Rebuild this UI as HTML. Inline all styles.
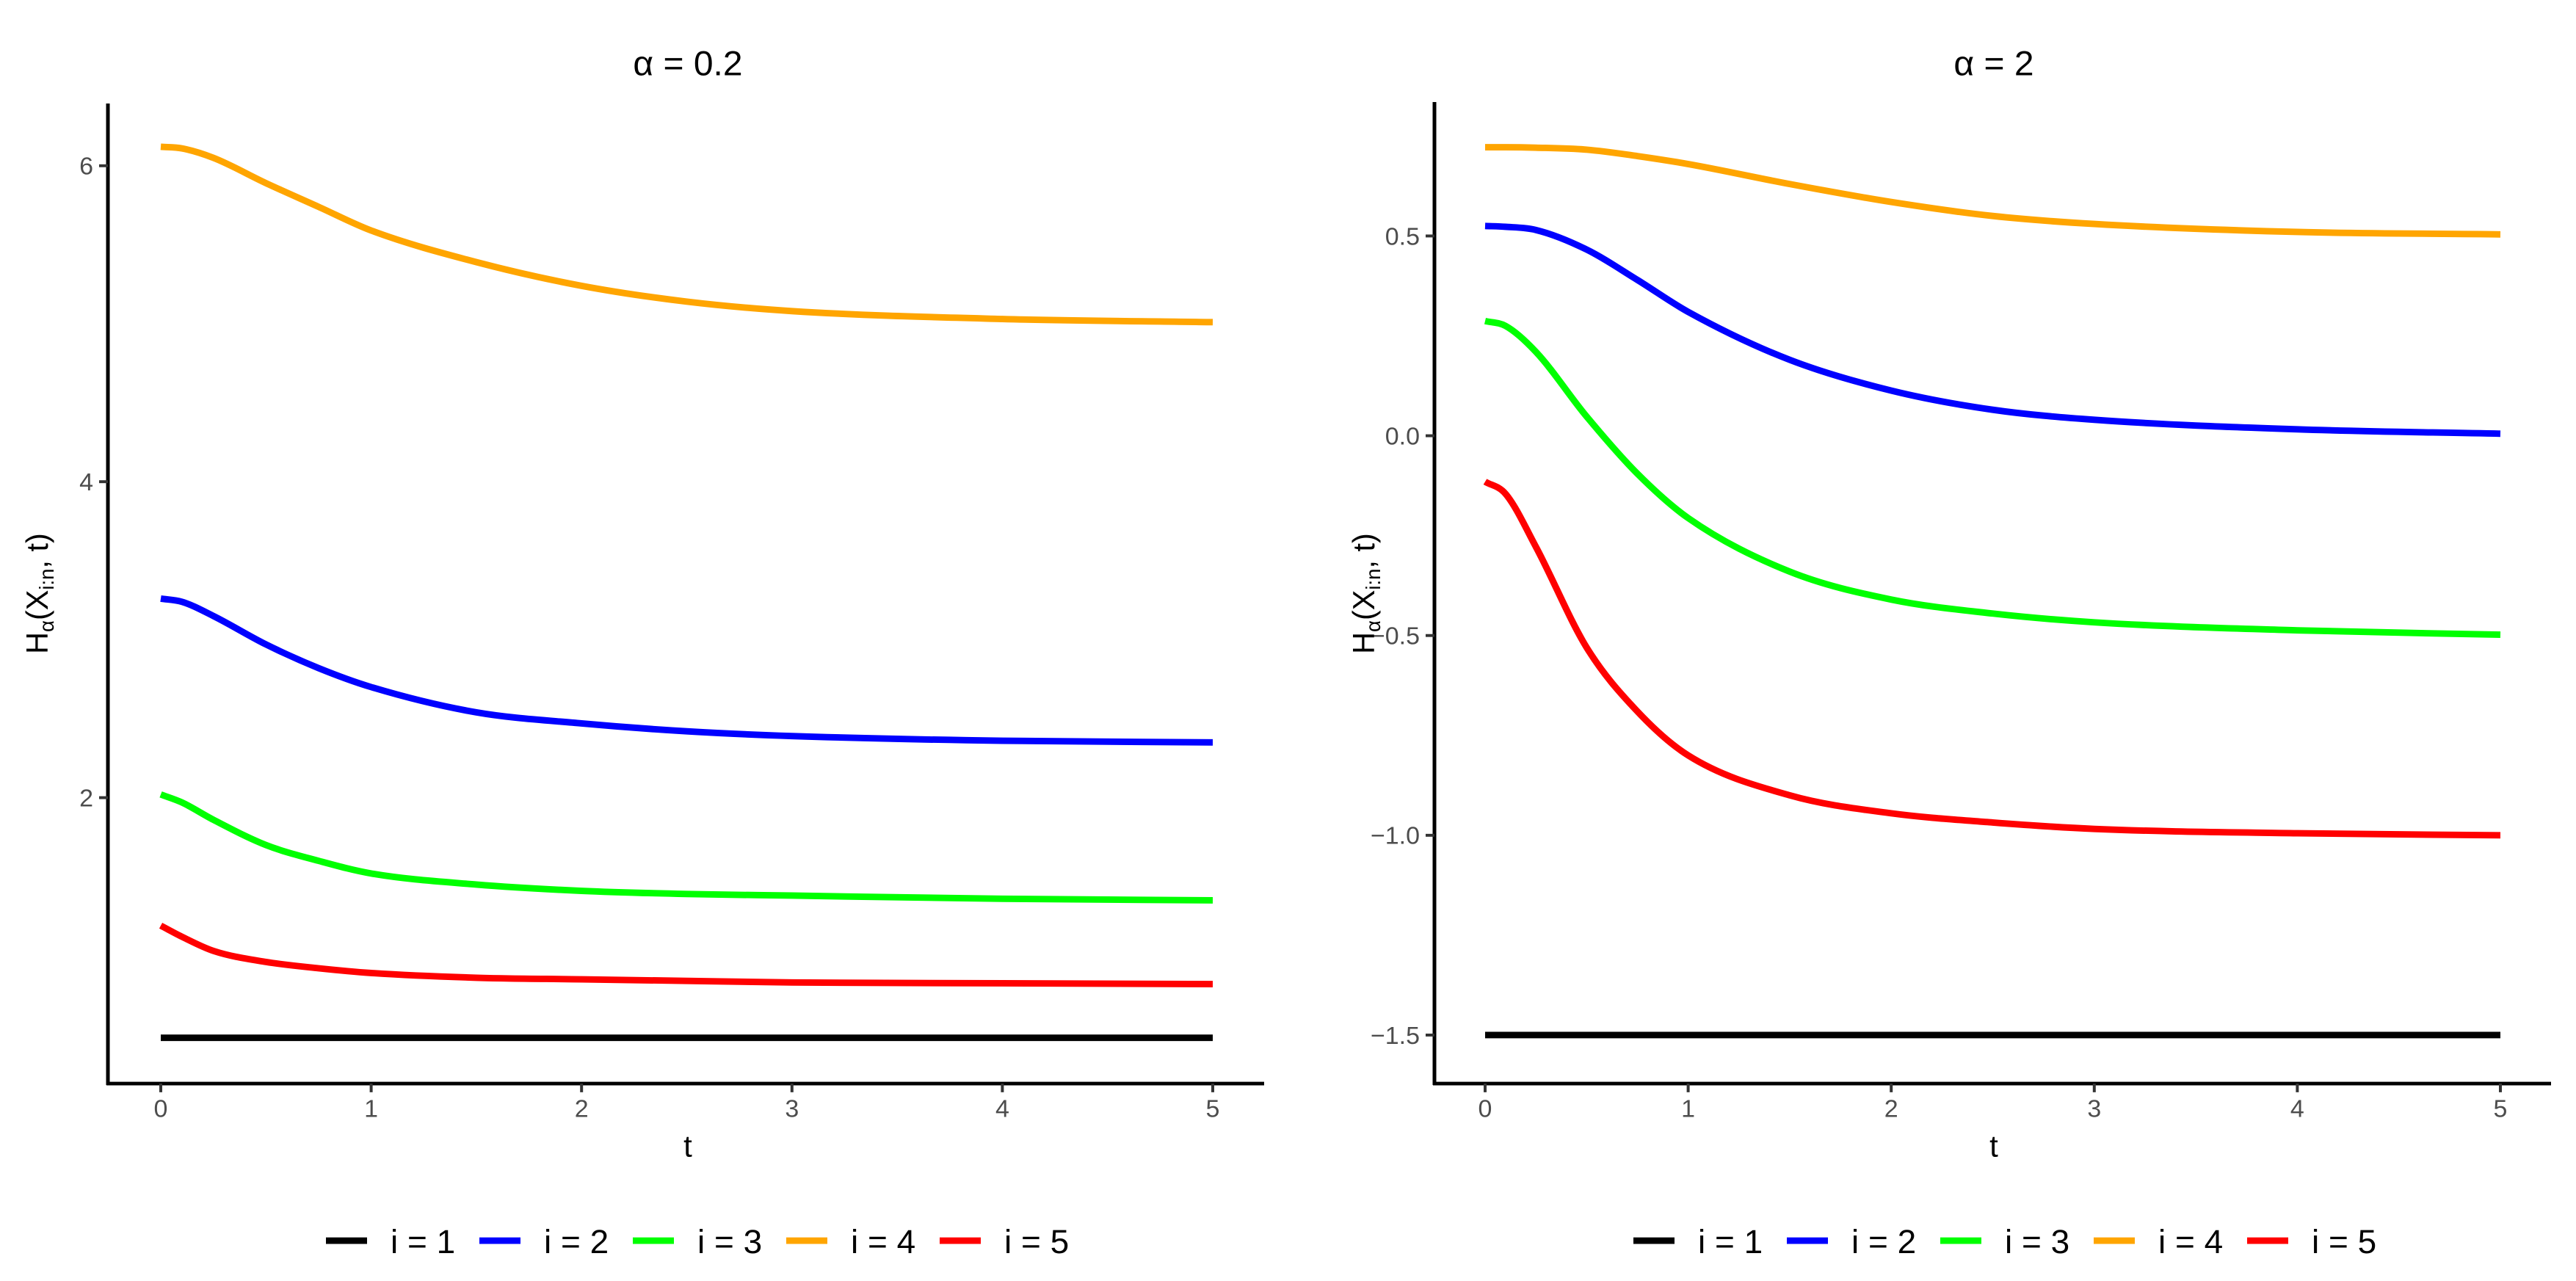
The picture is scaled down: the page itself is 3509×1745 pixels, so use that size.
<!DOCTYPE html>
<html><head><meta charset="utf-8"><style>
html,body{margin:0;padding:0;background:#fff;}
svg{display:block;font-family:"Liberation Sans","DejaVu Sans",sans-serif;}
</style></head><body>
<svg id="chart" width="3509" height="1745" viewBox="0 0 3509 1745" xmlns="http://www.w3.org/2000/svg"><g id="root" transform="scale(1,0.986)"></g></svg>
<script>
const tVals = [0,0.1,0.25,0.5,0.75,1,1.5,2,2.5,3,4,5];
const seriesNames = ["i = 1","i = 2","i = 3","i = 4","i = 5"];
const seriesColors = ["#000000","#0000ff","#00ff00","#ffa500","#ff0000"];
// panel 1 (alpha = 0.2)
const p1_s1 = [0.48,0.48,0.48,0.48,0.48,0.48,0.48,0.48,0.48,0.48,0.48,0.48];
const p1_s2 = [3.26,3.24,3.15,2.97,2.82,2.70,2.54,2.47,2.42,2.39,2.36,2.35];
const p1_s3 = [2.02,1.97,1.86,1.70,1.60,1.52,1.45,1.41,1.39,1.38,1.36,1.35];
const p1_s4 = [6.12,6.11,6.05,5.89,5.74,5.59,5.39,5.24,5.14,5.08,5.03,5.01];
const p1_s5 = [1.19,1.12,1.03,0.96,0.92,0.89,0.86,0.85,0.84,0.83,0.825,0.82];
const p1_yTicks = [2,4,6];
const p1_yLabels = ["2","4","6"];
// panel 2 (alpha = 2)
const p2_s1 = [-1.5,-1.5,-1.5,-1.5,-1.5,-1.5,-1.5,-1.5,-1.5,-1.5,-1.5,-1.5];
const p2_s2 = [0.525,0.523,0.515,0.466,0.39,0.31,0.19,0.113,0.065,0.04,0.016,0.005];
const p2_s3 = [0.287,0.275,0.21,0.048,-0.095,-0.206,-0.34,-0.41,-0.445,-0.467,-0.487,-0.498];
const p2_s4 = [0.722,0.722,0.721,0.716,0.70,0.68,0.63,0.585,0.55,0.53,0.51,0.504];
const p2_s5 = [-0.115,-0.145,-0.278,-0.53,-0.69,-0.80,-0.90,-0.945,-0.968,-0.984,-0.995,-1.0];
const p2_yTicks = [-1.5,-1.0,-0.5,0.0,0.5];
const p2_yLabels = ["\u22121.5","\u22121.0","\u22120.5","0.0","0.5"];
const xTicks = [0,1,2,3,4,5];
const xLabels = ["0","1","2","3","4","5"];

const root = document.getElementById('root');
const NS = "http://www.w3.org/2000/svg";
function mk(tag, attrs, parent){
  const e = document.createElementNS(NS, tag);
  for (const k in attrs) e.setAttribute(k, attrs[k]);
  (parent||root).appendChild(e);
  return e;
}
// monotone cubic (Fritsch-Carlson) path
function monoPath(pts){
  const n = pts.length, dx=[], dy=[], m=[], tan=[];
  for (let i=0;i<n-1;i++){ dx[i]=pts[i+1][0]-pts[i][0]; dy[i]=pts[i+1][1]-pts[i][1]; m[i]=dy[i]/dx[i]; }
  tan[0]=m[0]; tan[n-1]=m[n-2];
  for (let i=1;i<n-1;i++){ tan[i] = (m[i-1]*m[i]<=0) ? 0 : (m[i-1]+m[i])/2; }
  for (let i=0;i<n-1;i++){
    if (m[i]===0){ tan[i]=0; tan[i+1]=0; continue; }
    const a=tan[i]/m[i], b=tan[i+1]/m[i], s=a*a+b*b;
    if (s>9){ const t=3/Math.sqrt(s); tan[i]=t*a*m[i]; tan[i+1]=t*b*m[i]; }
  }
  let d="M"+pts[0][0]+","+pts[0][1];
  for (let i=0;i<n-1;i++){
    const h=dx[i]/3;
    d+=" C"+(pts[i][0]+h)+","+(pts[i][1]+tan[i]*h)+" "+(pts[i+1][0]-h)+","+(pts[i+1][1]-tan[i+1]*h)+" "+pts[i+1][0]+","+pts[i+1][1];
  }
  return d;
}
function panel(cfg){
  const g = mk('g', {});
  
  
  const xs = t => cfg.x0 + (t-0)*(cfg.x5-cfg.x0)/5;
  const ys = v => cfg.yA + (v-cfg.vA)*(cfg.yB-cfg.yA)/(cfg.vB-cfg.vA);
  cfg.series.forEach((s,si)=>{
    const pts = tVals.map((t,i)=>[xs(t), ys(s[i])]);
    const p = mk('path', {d:monoPath(pts), fill:'none', stroke:seriesColors[si], 'stroke-width':9, 'stroke-linejoin':'round'}, g);
    
    
  });
  const ya = mk('line', {x1:cfg.ax, y1:cfg.top, x2:cfg.ax, y2:cfg.bot+2, stroke:'#000', 'stroke-width':5}, g);
  
  
  const xa = mk('line', {x1:cfg.ax-2, y1:cfg.bot, x2:cfg.right, y2:cfg.bot, stroke:'#000', 'stroke-width':5}, g);
  
  
  xTicks.forEach((t,i)=>{
    mk('line',{x1:xs(t),y1:cfg.bot,x2:xs(t),y2:cfg.bot+12,stroke:'#333','stroke-width':4},g);
    const tx = mk('text',{x:xs(t),y:cfg.bot+46,'text-anchor':'middle','font-size':34,fill:'#4d4d4d'},g);
    
    
    tx.textContent = xLabels[i];
  });
  cfg.yTicks.forEach((v,i)=>{
    mk('line',{x1:cfg.ax-12,y1:ys(v),x2:cfg.ax,y2:ys(v),stroke:'#333','stroke-width':4},g);
    const tx = mk('text',{x:cfg.ax-20,y:ys(v)+12,'text-anchor':'end','font-size':34,fill:'#4d4d4d'},g);
    
    
    tx.textContent = cfg.yLabels[i];
  });
  const title = mk('text',{x:cfg.cx,y:104,'text-anchor':'middle','font-size':48,fill:'#000'},g);
  
  
  title.textContent = cfg.title;
  const xt = mk('text',{x:cfg.cx,y:1598,'text-anchor':'middle','font-size':42,fill:'#000'},g);
  
  
  xt.textContent = 't';
  const yt = mk('text',{x:0,y:0,'text-anchor':'middle','font-size':42,fill:'#000',transform:'translate('+(cfg.ax-82)+',820) rotate(-90)'},g);
  
  
  yt.innerHTML = 'H<tspan font-size="28" dy="8">\u03b1</tspan><tspan dy="-8">(X</tspan><tspan font-size="28" dy="8">i:n</tspan><tspan dy="-8">, t)</tspan>';
  const lg = mk('g',{},g);
  
  
  seriesNames.forEach((n,i)=>{
    const lx = cfg.legX + i*209;
    const e = mk('g',{},lg);
    
    
    mk('line',{x1:lx,y1:1714,x2:lx+56,y2:1714,stroke:seriesColors[i],'stroke-width':9},e);
    const t = mk('text',{x:lx+88,y:1731,'font-size':46,fill:'#000'},e);
    t.textContent = n;
  });
}
panel({name:'panel-alpha-0.2', title:'\u03b1 = 0.2', x0:219, x5:1652, ax:147, right:1722, top:143, bot:1497,
  yA:1102, vA:2, yB:229, vB:6, cx:937, legX:444,
  series:[p1_s1,p1_s2,p1_s3,p1_s4,p1_s5], yTicks:p1_yTicks, yLabels:p1_yLabels});
panel({name:'panel-alpha-2', title:'\u03b1 = 2', x0:2023, x5:3406, ax:1954, right:3475, top:141, bot:1497,
  yA:602, vA:0, yB:326, vB:0.5, cx:2716, legX:2225,
  series:[p2_s1,p2_s2,p2_s3,p2_s4,p2_s5], yTicks:p2_yTicks, yLabels:p2_yLabels});
</script>
</body></html>
